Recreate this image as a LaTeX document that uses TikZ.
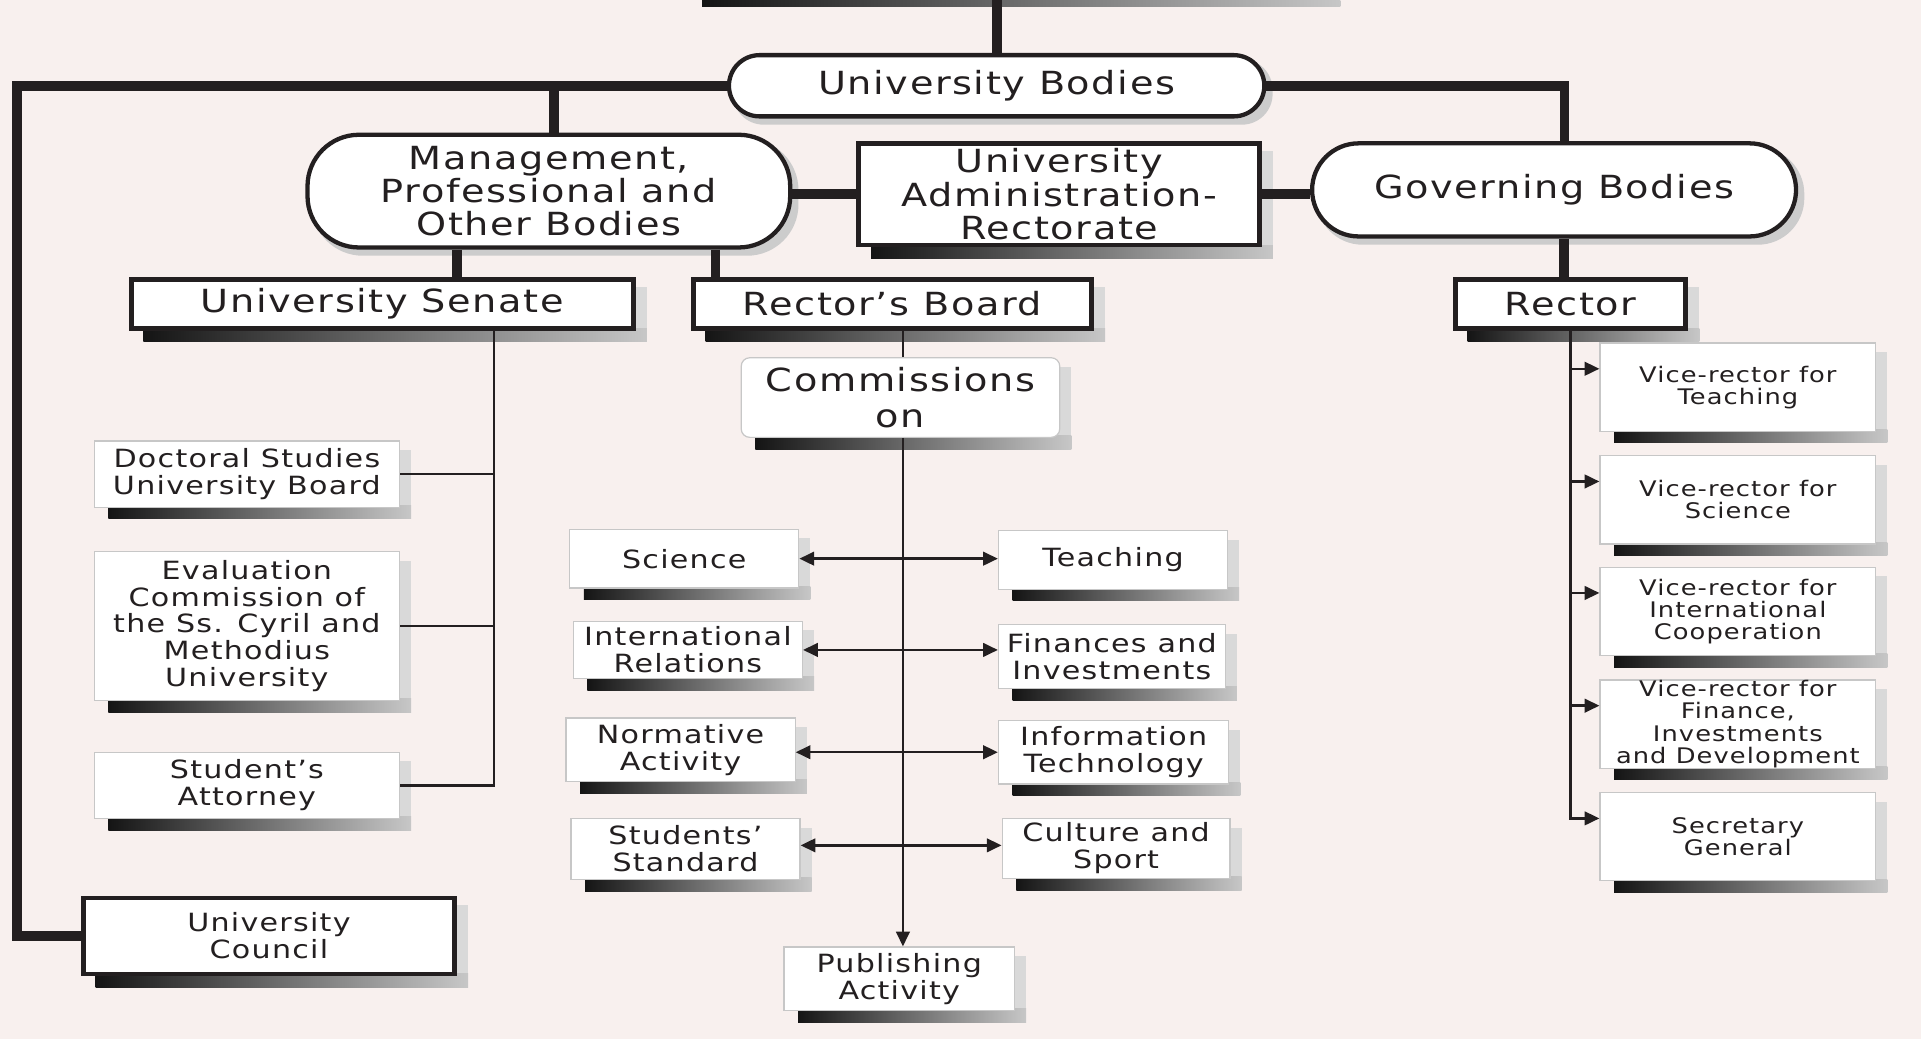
\documentclass[tikz,border=0pt]{standalone}
\usepackage{fontspec}
\setmainfont{DejaVu Sans}[FakeStretch=1.2,LetterSpace=5]
\usetikzlibrary{arrows.meta,calc,backgrounds}
\definecolor{bg}{RGB}{248,240,238}
\definecolor{ink}{RGB}{35,31,32}
\newcommand\fB{\fontsize{26}{27}\selectfont}
\newcommand\fC{\fontsize{26}{30}\selectfont}
\newcommand\fM{\fontsize{20.5}{22}\selectfont}
\newcommand\fS{\fontsize{17.5}{18}\selectfont}
\begin{document}
\begin{tikzpicture}[x=1pt,y=-1pt,
  every node/.style={text=ink, align=center, inner sep=0pt},
  thickbox/.style={draw=ink, line width=4pt, fill=white},
  pillbox/.style={draw=ink, line width=3.5pt, fill=white, rounded corners=#1},
  thinbox/.style={draw=black!22, line width=1pt, fill=white},
  conn/.style={draw=ink, line width=8pt},
  tline/.style={draw=ink, line width=2pt},
  arr/.style={tline, -{Triangle[length=12pt,width=11pt]}},
  darr/.style={tline, {Triangle[length=12pt,width=11pt]}-{Triangle[length=12pt,width=11pt]}}]
\useasboundingbox (0,0) rectangle (1568,848);
\begin{pgfonlayer}{background}
\fill[bg] (0,0) rectangle (1568,848);
\end{pgfonlayer}
\clip (0,0) rectangle (1568,848);

% top level (cut off)
\node[thickbox, minimum width=520pt, minimum height=60pt] (topbox) at (823,-36) {};
% main bodies
\node[pillbox=25pt, minimum width=437pt, minimum height=50pt, font=\fB] (ub) at (813.5,70) {University Bodies};
\node[pillbox=42pt, minimum width=394pt, minimum height=92pt, font=\fB] (mg) at (448,156) {Management,\\Professional and\\Other Bodies};
\node[thickbox, minimum width=327pt, minimum height=83pt, font=\fB] (ad) at (864.5,158.5) {University\\Administration-\\Rectorate};
\node[pillbox=38pt, minimum width=395pt, minimum height=76pt, font=\fB] (gb) at (1268.5,155) {Governing Bodies};
% second level
\node[thickbox, minimum width=410pt, minimum height=40pt, font=\fB] (sen) at (312,248) {University Senate};
\node[thickbox, minimum width=325pt, minimum height=40pt, font=\fB] (rb) at (728.5,248) {Rector’s Board};
\node[thickbox, minimum width=188pt, minimum height=40pt, font=\fB] (rec) at (1282,248) {Rector};
% senate bodies
\node[thinbox, minimum width=249pt, minimum height=54pt, font=\fM] (doc) at (201.5,387) {Doctoral Studies\\University Board};
\node[thinbox, minimum width=249pt, minimum height=122pt, font=\fM] (eva) at (201.5,511) {Evaluation\\Commission of\\the Ss. Cyril and\\Methodius\\University};
\node[thinbox, minimum width=249pt, minimum height=54pt, font=\fM] (att) at (201.5,641) {Student’s\\Attorney};
\node[thickbox, minimum width=303pt, minimum height=62pt, font=\fM] (cou) at (219.5,764) {University\\Council};
% commissions
\node[thinbox, rounded corners=7pt, minimum width=260pt, minimum height=65pt, font=\fC] (com) at (735,324.5) {Commissions\\on};
\node[thinbox, minimum width=187pt, minimum height=48pt, font=\fM] (sci) at (558.5,456) {Science};
\node[thinbox, minimum width=187pt, minimum height=48pt, font=\fM] (tea) at (908.5,457) {Teaching};
\node[thinbox, minimum width=187pt, minimum height=47pt, font=\fM] (irl) at (561.5,530.5) {International\\Relations};
\node[thinbox, minimum width=185pt, minimum height=52pt, font=\fM] (fin) at (907.5,536) {Finances and\\Investments};
\node[thinbox, minimum width=187pt, minimum height=52pt, font=\fM] (nor) at (555.5,612) {Normative\\Activity};
\node[thinbox, minimum width=188pt, minimum height=52pt, font=\fM] (inf) at (909,614) {Information\\Technology};
\node[thinbox, minimum width=187pt, minimum height=50pt, font=\fM] (sst) at (559.5,693) {Students’\\Standard};
\node[thinbox, minimum width=186pt, minimum height=49pt, font=\fM] (cul) at (911,692.5) {Culture and\\Sport};
\node[thinbox, minimum width=188pt, minimum height=52pt, font=\fM] (pub) at (734,799) {Publishing\\Activity};
% vice-rectors
\node[thinbox, minimum width=225pt, minimum height=72pt, font=\fS] (v1) at (1418.5,316) {Vice-rector for\\Teaching};
\node[thinbox, minimum width=225pt, minimum height=72pt, font=\fS] (v2) at (1418.5,408) {Vice-rector for\\Science};
\node[thinbox, minimum width=225pt, minimum height=72pt, font=\fS] (v3) at (1418.5,499) {Vice-rector for\\International\\Cooperation};
\node[thinbox, minimum width=225pt, minimum height=72pt, font=\fS] (v4) at (1418.5,591) {Vice-rector for\\Finance,\\Investments\\and Development};
\node[thinbox, minimum width=225pt, minimum height=72pt, font=\fS] (v5) at (1418.5,683) {Secretary\\General};

% shadows
\begin{pgfonlayer}{background}
\foreach \n in {topbox,ad,sen,rb,rec,cou,doc,eva,att,com,sci,tea,irl,fin,nor,inf,sst,cul,pub,v1,v2,v3,v4,v5}{
  \fill[black!15] ($(\n.north east)+(-2,8)$) rectangle ($(\n.south east)+(9,9)$);
  \shade[left color=black!92, right color=black!22] ($(\n.south west)+(12,-2)$) rectangle ($(\n.south east)+(9,9)$);
}
\foreach \n/\r in {ub/25pt,mg/42pt,gb/38pt}{
  \fill[black!20, rounded corners=\r] ($(\n.north west)+(5,5)$) rectangle ($(\n.south east)+(5,5)$);
}
\end{pgfonlayer}

% thick connectors
\coordinate (lc) at (14,70);
\coordinate (rc) at (1277,70);
\draw[conn] (ub.north) -- (ub.north |- topbox.south);
\draw[conn] (ub.west) -- (lc) |- (cou.west);
\draw[conn] ([xshift=4pt]mg.north) -- ([xshift=4pt]mg.north |- ub.west);
\draw[conn] (ub.east) -- (rc) -- (rc |- gb.north);
\draw[conn] (ad.west -| mg.east) -- (ad.west);
\draw[conn] (ad.east) -- (ad.east -| gb.west);
\draw[conn] ([xshift=-75pt]mg.south) -- ([xshift=-75pt]mg.south |- sen.north);
\draw[conn] ([xshift=136pt]mg.south) -- ([xshift=136pt]mg.south |- rb.north);
\draw[conn] ([xshift=8pt]gb.south) -- ([xshift=8pt]gb.south |- rec.north);

% senate tree
\coordinate (sx) at ([xshift=91pt]sen.south);
\draw[tline] (sx) |- (att.east);
\draw[tline] (doc.east) -- (doc.east -| sx);
\draw[tline] (eva.east) -- (eva.east -| sx);

% commissions
\draw[tline] ([xshift=2pt]com.north) -- ([xshift=2pt]com.north |- rb.south);
\draw[arr] ([xshift=2pt]com.south) -- ([xshift=2pt]com.south |- pub.north);
\draw[darr] (sci.east) -- (sci.east -| tea.west);
\draw[darr] (irl.east) -- (irl.east -| fin.west);
\draw[darr] (inf.west -| nor.east) -- (inf.west);
\draw[darr] ([yshift=3pt]sst.east) -- ([yshift=3pt]sst.east -| cul.west);

% rector tree
\draw[arr] (rec.south) |- ([yshift=15pt]v5.west);
\foreach \v in {v1,v2,v3,v4}{
  \draw[arr] ([yshift=15pt]\v.west -| rec.south) -- ([yshift=15pt]\v.west);
}
\end{tikzpicture}
\end{document}
